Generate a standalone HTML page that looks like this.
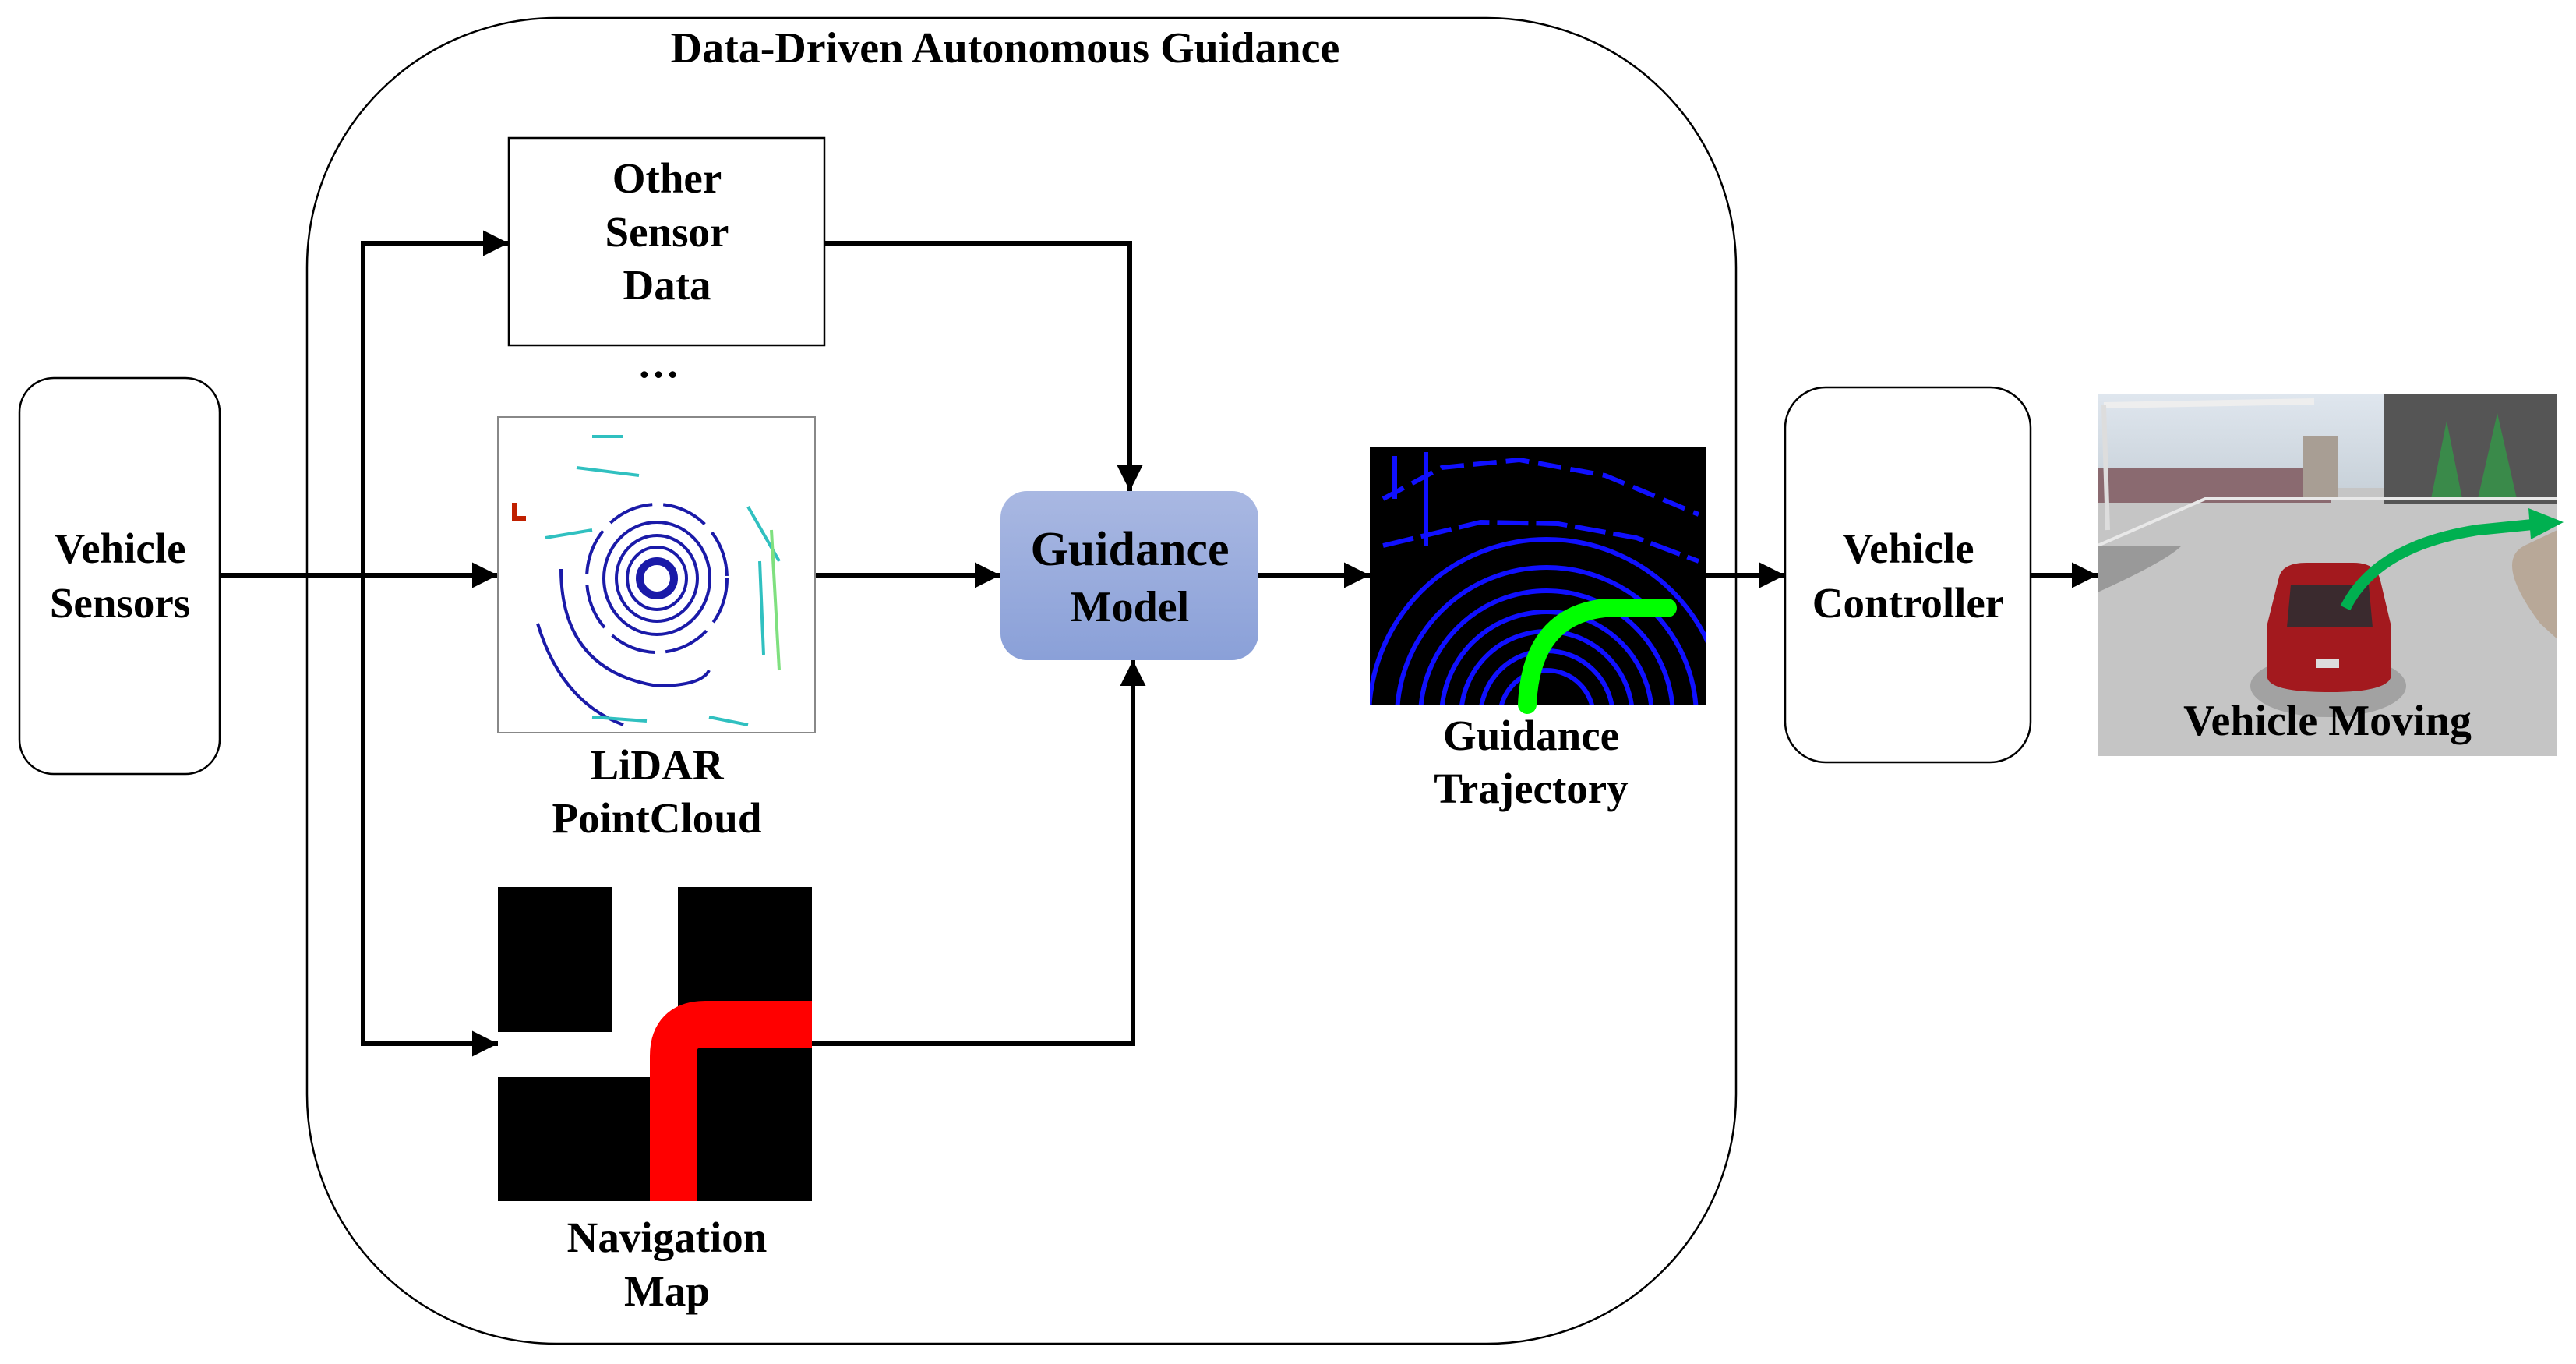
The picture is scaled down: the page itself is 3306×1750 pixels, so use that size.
<!DOCTYPE html>
<html><head><meta charset="utf-8"><style>
html,body{margin:0;padding:0;background:#fff;}
svg{display:block;}
text{font-family:"Liberation Serif",serif;font-weight:bold;fill:#000;}
</style></head><body>
<svg width="3306" height="1750" viewBox="0 0 3306 1750" xmlns="http://www.w3.org/2000/svg">
<defs>
<marker id="ah" viewBox="0 0 10 10" refX="10" refY="5" markerWidth="5.5" markerHeight="5.5" markerUnits="strokeWidth" orient="auto">
<path d="M0,0 L10,5 L0,10 z" fill="#000"/></marker>
<linearGradient id="gm" x1="0" y1="0" x2="0" y2="1"><stop offset="0" stop-color="#a9b8e2"/><stop offset="1" stop-color="#8aa0d8"/></linearGradient>
<linearGradient id="sky" x1="0" y1="0" x2="0" y2="1"><stop offset="0" stop-color="#dfe6ee"/><stop offset="1" stop-color="#c9d2da"/></linearGradient>
<clipPath id="cl"><rect x="639" y="535" width="407" height="405"/></clipPath>
<clipPath id="ct"><rect x="1758" y="573" width="432" height="331"/></clipPath>
<clipPath id="cc"><rect x="2692" y="506" width="590" height="464"/></clipPath>
</defs>

<rect x="394" y="23" width="1834" height="1701" rx="320" ry="320" fill="none" stroke="#000" stroke-width="2.5"/>
<text x="1290" y="80" font-size="56" text-anchor="middle">Data-Driven Autonomous Guidance</text>

<rect x="25" y="485" width="257" height="508" rx="44" fill="#fff" stroke="#000" stroke-width="2.5"/>
<text x="154" y="722" font-size="55" text-anchor="middle">Vehicle</text>
<text x="154" y="792" font-size="55" text-anchor="middle">Sensors</text>

<g stroke="#000" stroke-width="6" fill="none">
<line x1="282" y1="738" x2="639" y2="738" marker-end="url(#ah)"/>
<polyline points="655,312 466,312 466,1339 639,1339" stroke-linejoin="miter"/>
<line x1="466" y1="312" x2="653" y2="312" marker-end="url(#ah)"/>
<line x1="466" y1="1339" x2="639" y2="1339" marker-end="url(#ah)"/>
<polyline points="1058,312 1450,312 1450,630" marker-end="url(#ah)"/>
<polyline points="1042,1339 1454,1339 1454,847" marker-end="url(#ah)"/>
<line x1="1046" y1="738" x2="1284" y2="738" marker-end="url(#ah)"/>
<line x1="1615" y1="738" x2="1758" y2="738" marker-end="url(#ah)"/>
<line x1="2190" y1="738" x2="2291" y2="738" marker-end="url(#ah)"/>
<line x1="2606" y1="738" x2="2692" y2="738" marker-end="url(#ah)"/>
</g>

<rect x="653" y="177" width="405" height="266" fill="#fff" stroke="#000" stroke-width="2.5"/>
<text x="856" y="247" font-size="55" text-anchor="middle">Other</text>
<text x="856" y="316" font-size="55" text-anchor="middle">Sensor</text>
<text x="856" y="384" font-size="55" text-anchor="middle">Data</text>
<text x="845" y="484" font-size="54" text-anchor="middle">…</text>

<rect x="639" y="535" width="407" height="405" fill="#fff" stroke="#888" stroke-width="2"/>
<g clip-path="url(#cl)" fill="none" stroke="#1a1aa8" stroke-width="4">
<ellipse cx="843" cy="742" rx="22" ry="22" stroke-width="10"/>
<ellipse cx="843" cy="742" rx="38" ry="40"/>
<ellipse cx="843" cy="742" rx="52" ry="55"/>
<ellipse cx="843" cy="742" rx="68" ry="72"/>
<ellipse cx="843" cy="742" rx="90" ry="95" stroke-dasharray="60 14"/>
<path d="M720,730 Q720,860 843,880 Q900,880 910,860" />
<path d="M690,800 Q720,900 800,930"/>
<path d="M760,560 L800,560 M740,600 L820,610 M700,690 L760,680 M960,650 L1000,720 M975,720 L980,840 M760,920 L830,925 M910,920 L960,930" stroke="#30c0c0"/>
<path d="M990,680 L1000,860" stroke="#7fe07f"/>
<path d="M660,645 L660,665 L675,665" stroke="#c02000" stroke-width="6"/>
</g>
<text x="843" y="1000" font-size="55" text-anchor="middle">LiDAR</text>
<text x="843" y="1068" font-size="55" text-anchor="middle">PointCloud</text>

<rect x="639" y="1138" width="403" height="403" fill="#000"/>
<rect x="786" y="1138" width="84" height="244" fill="#fff"/>
<rect x="639" y="1324" width="231" height="58" fill="#fff"/>
<path d="M1042,1314 L905,1314 Q864,1314 864,1355 L864,1541" fill="none" stroke="#f00" stroke-width="60"/>
<text x="856" y="1606" font-size="55" text-anchor="middle">Navigation</text>
<text x="856" y="1675" font-size="55" text-anchor="middle">Map</text>

<rect x="1284" y="630" width="331" height="217" rx="34" fill="url(#gm)"/>
<text x="1450" y="725" font-size="62" text-anchor="middle">Guidance</text>
<text x="1450" y="797" font-size="56" text-anchor="middle">Model</text>

<rect x="1758" y="573" width="432" height="331" fill="#000"/>
<g clip-path="url(#ct)" fill="none" stroke="#1010ff" stroke-width="6">
<circle cx="1985" cy="920" r="60"/>
<circle cx="1985" cy="920" r="85"/>
<circle cx="1985" cy="920" r="110"/>
<circle cx="1985" cy="920" r="135"/>
<circle cx="1985" cy="920" r="162"/>
<circle cx="1985" cy="920" r="192"/>
<circle cx="1985" cy="920" r="228"/>
<path d="M1775,640 L1850,600 L1950,590 L2060,610 L2180,660" stroke-dasharray="30 12"/>
<path d="M1775,700 L1900,670 L2000,672 L2100,690 L2180,720" stroke-dasharray="40 10"/>
<path d="M1790,585 L1790,640 M1830,580 L1830,700"/>
</g>
<path d="M1960,904 Q1965,790 2060,780 L2140,780" fill="none" stroke="#00ff00" stroke-width="24" stroke-linecap="round"/>
<text x="1965" y="962" font-size="55" text-anchor="middle">Guidance</text>
<text x="1965" y="1030" font-size="55" text-anchor="middle">Trajectory</text>

<rect x="2291" y="497" width="315" height="481" rx="52" fill="#fff" stroke="#000" stroke-width="2.5"/>
<text x="2449" y="722" font-size="55" text-anchor="middle">Vehicle</text>
<text x="2449" y="792" font-size="55" text-anchor="middle">Controller</text>

<g clip-path="url(#cc)">
<rect x="2692" y="506" width="590" height="464" fill="#c5c5c5"/>
<rect x="2692" y="506" width="590" height="120" fill="url(#sky)"/>
<rect x="2692" y="600" width="300" height="45" fill="#8a6a70"/>
<rect x="2955" y="560" width="45" height="80" fill="#a89e94"/>
<rect x="3060" y="506" width="222" height="140" fill="#555"/>
<path d="M3120,640 L3140,540 L3160,640 z M3180,640 L3205,530 L3230,640 z" fill="#3a8a4a"/>
<path d="M2700,520 L2970,515" stroke="#eee" stroke-width="8"/>
<path d="M2700,520 L2705,680" stroke="#ddd" stroke-width="6"/>
<path d="M2692,700 L2830,640 L3282,640" fill="none" stroke="#e8e8e8" stroke-width="4"/>
<path d="M2692,760 Q2780,720 2800,700 L2692,700 z" fill="#999"/>
<path d="M3240,700 Q3200,720 3260,800 L3282,820 L3282,680 z" fill="#b8a898"/>
<ellipse cx="2988" cy="880" rx="100" ry="40" fill="#8a8a8a" opacity="0.6"/>
<path d="M2925,740 Q2930,722 2960,722 L3020,722 Q3050,722 3055,745 L3068,800 L3068,870 Q3060,888 2990,888 Q2915,888 2910,870 L2910,800 z" fill="#a3191e"/>
<path d="M2940,750 L3040,750 L3045,805 L2935,805 z" fill="#3a2a2e"/>
<rect x="2972" y="845" width="30" height="12" fill="#ddd"/>
</g>
<path d="M3010,780 Q3050,700 3180,680 L3250,673" fill="none" stroke="#00b050" stroke-width="14"/>
<path d="M3245,652 L3290,670 L3248,692 z" fill="#00b050"/>
<text x="2987" y="943" font-size="56" text-anchor="middle">Vehicle Moving</text>
</svg>
</body></html>
